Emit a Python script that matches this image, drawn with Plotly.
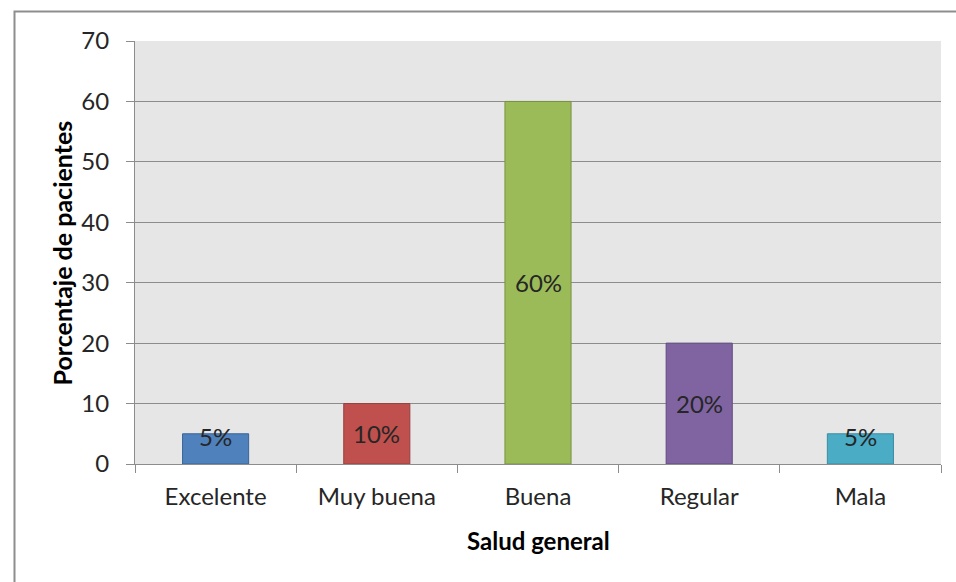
import plotly.graph_objects as go

# Salud general de los pacientes (%)
categories = ["Excelente", "Muy buena", "Buena", "Regular", "Mala"]
values = [5, 10, 60, 20, 5]
labels = ["5%", "10%", "60%", "20%", "5%"]
fill_colors = ["#4F81BD", "#C0504D", "#9BBB59", "#8064A2", "#4BACC6"]
edge_colors = ["#3A6496", "#93403D", "#78923F", "#5F4A7C", "#3A8DA3"]
y_ticks = [0, 10, 20, 30, 40, 50, 60, 70]

FONT = "Lato, 'Open Sans', sans-serif"
TEXT = "#262626"
GRID = "#8C8C8C"

fig = go.Figure()
fig.add_trace(go.Bar(
    x=categories,
    y=values,
    width=0.41,
    marker=dict(color=fill_colors, line=dict(color=edge_colors, width=1)),
    hoverinfo="x+y",
    showlegend=False,
))

# value labels: centred in each bar, kept clear of the baseline for short bars
for cat, v, lab in zip(categories, values, labels):
    fig.add_annotation(
        x=cat, y=max(v / 2, 4.6), text=lab, showarrow=False,
        xref="x", yref="y", font=dict(family=FONT, size=24, color=TEXT),
    )

# axis titles
fig.add_annotation(
    x=0.5, y=-0.1797, xref="paper", yref="paper", text="<b>Salud general</b>",
    xanchor="center", yanchor="middle",
    showarrow=False, font=dict(family=FONT, size=24, color="#000000"),
)
fig.add_annotation(
    x=-0.0906, y=0.5, xref="paper", yref="paper", text="<b>Porcentaje de pacientes</b>",
    xanchor="center", yanchor="middle",
    textangle=-90, showarrow=False, font=dict(family=FONT, size=25, color="#000000"),
)

# outer chart frame
fig.add_shape(
    type="rect", xref="paper", yref="paper",
    x0=-0.1495, y0=-0.3, x1=1.03, y1=1.0697,
    line=dict(color="#8E8E8E", width=2), layer="below",
)

fig.update_layout(
    width=956, height=582,
    margin=dict(l=135, r=15, t=41, b=118),
    paper_bgcolor="white",
    plot_bgcolor="#E6E6E6",
    bargap=0.59,
    font=dict(family=FONT, color=TEXT),
    xaxis=dict(
        type="category",
        tickson="boundaries",
        ticks="outside", ticklen=8, tickcolor=GRID, tickwidth=1,
        showline=True, linecolor=GRID, linewidth=1,
        showgrid=False,
        tickfont=dict(family=FONT, size=24, color=TEXT),
        ticklabelstandoff=11,
    ),
    yaxis=dict(
        range=[0, 70],
        tickvals=y_ticks,
        ticks="outside", ticklen=8, tickcolor=GRID, tickwidth=1,
        showline=True, linecolor=GRID, linewidth=1,
        showgrid=True, gridcolor=GRID, gridwidth=1,
        zeroline=False,
        tickfont=dict(family=FONT, size=24, color=TEXT),
        ticklabelstandoff=12,
    ),
)

fig.write_html("out.html")
